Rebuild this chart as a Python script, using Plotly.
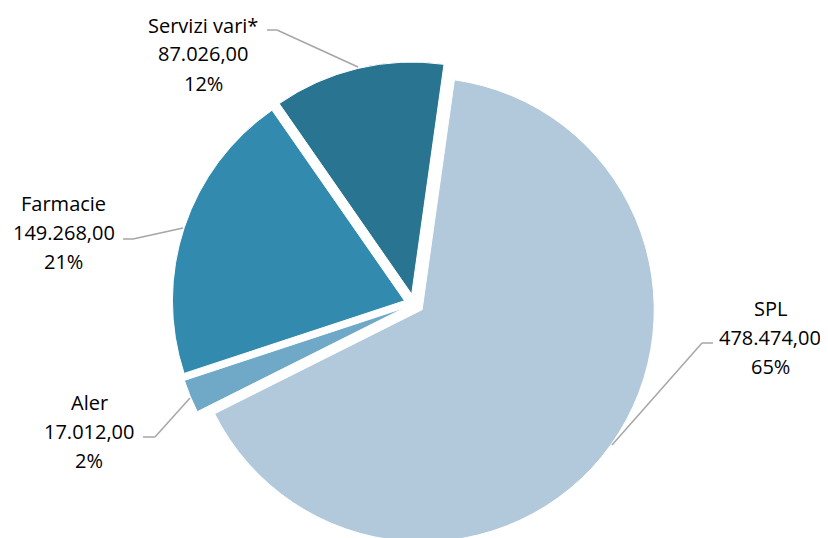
import plotly.graph_objects as go

categories = ["SPL", "Aler", "Farmacie", "Servizi vari*"]
values = [478474.00, 17012.00, 149268.00, 87026.00]
value_labels = ["478.474,00", "17.012,00", "149.268,00", "87.026,00"]
percent_labels = ["65%", "2%", "21%", "12%"]
colors = ["#B2C9DB", "#70A9C7", "#328BAE", "#287491"]

W, H = 828, 538

fig = go.Figure(go.Pie(
    labels=categories,
    values=values,
    sort=False,
    direction="clockwise",
    rotation=8,
    pull=[0.043] * 4,
    marker=dict(colors=colors, line=dict(color="white", width=1)),
    textinfo="none",
    hoverinfo="label+value+percent",
    showlegend=False,
    domain=dict(x=[0, 0.9807], y=[0, 0.9]),
))

# label positions (pixel centre of the middle line, figure coords) and leader lines
label_pos = {
    "SPL": (762, 329),
    "Aler": (81, 423),
    "Farmacie": (56, 224),
    "Servizi vari*": (195, 46),
}
leaders = {
    "SPL": [(705, 335), (694, 335), (604, 437)],
    "Aler": [(135, 429), (147, 429), (182, 390)],
    "Farmacie": [(115, 231), (125, 231), (175, 220)],
    "Servizi vari*": [(259, 22), (269, 22), (350, 59)],
}
LINE_GAP = 29

def px(x, y):
    return x / W, 1 - y / H

annotations = []
shapes = []
for cat, val, pct in zip(categories, value_labels, percent_labels):
    cx, cy = label_pos[cat]
    for i, line in enumerate([cat, val, pct]):
        x, y = px(cx, cy + (i - 1) * LINE_GAP)
        annotations.append(dict(
            x=x, y=y, xref="paper", yref="paper",
            text=line,
            showarrow=False, align="center",
            font=dict(family="Open Sans", size=20, color="#000000"),
            xanchor="center", yanchor="middle",
        ))
    pts = [px(*p) for p in leaders[cat]]
    for (x0, y0), (x1, y1) in zip(pts[:-1], pts[1:]):
        shapes.append(dict(type="line", xref="paper", yref="paper",
                           x0=x0, y0=y0, x1=x1, y1=y1,
                           line=dict(color="#A6A6A6", width=1.5)))

fig.update_layout(
    width=W, height=H,
    margin=dict(l=0, r=0, t=0, b=0),
    paper_bgcolor="white",
    plot_bgcolor="white",
    annotations=annotations,
    shapes=shapes,
)

fig.write_html("out.html")
